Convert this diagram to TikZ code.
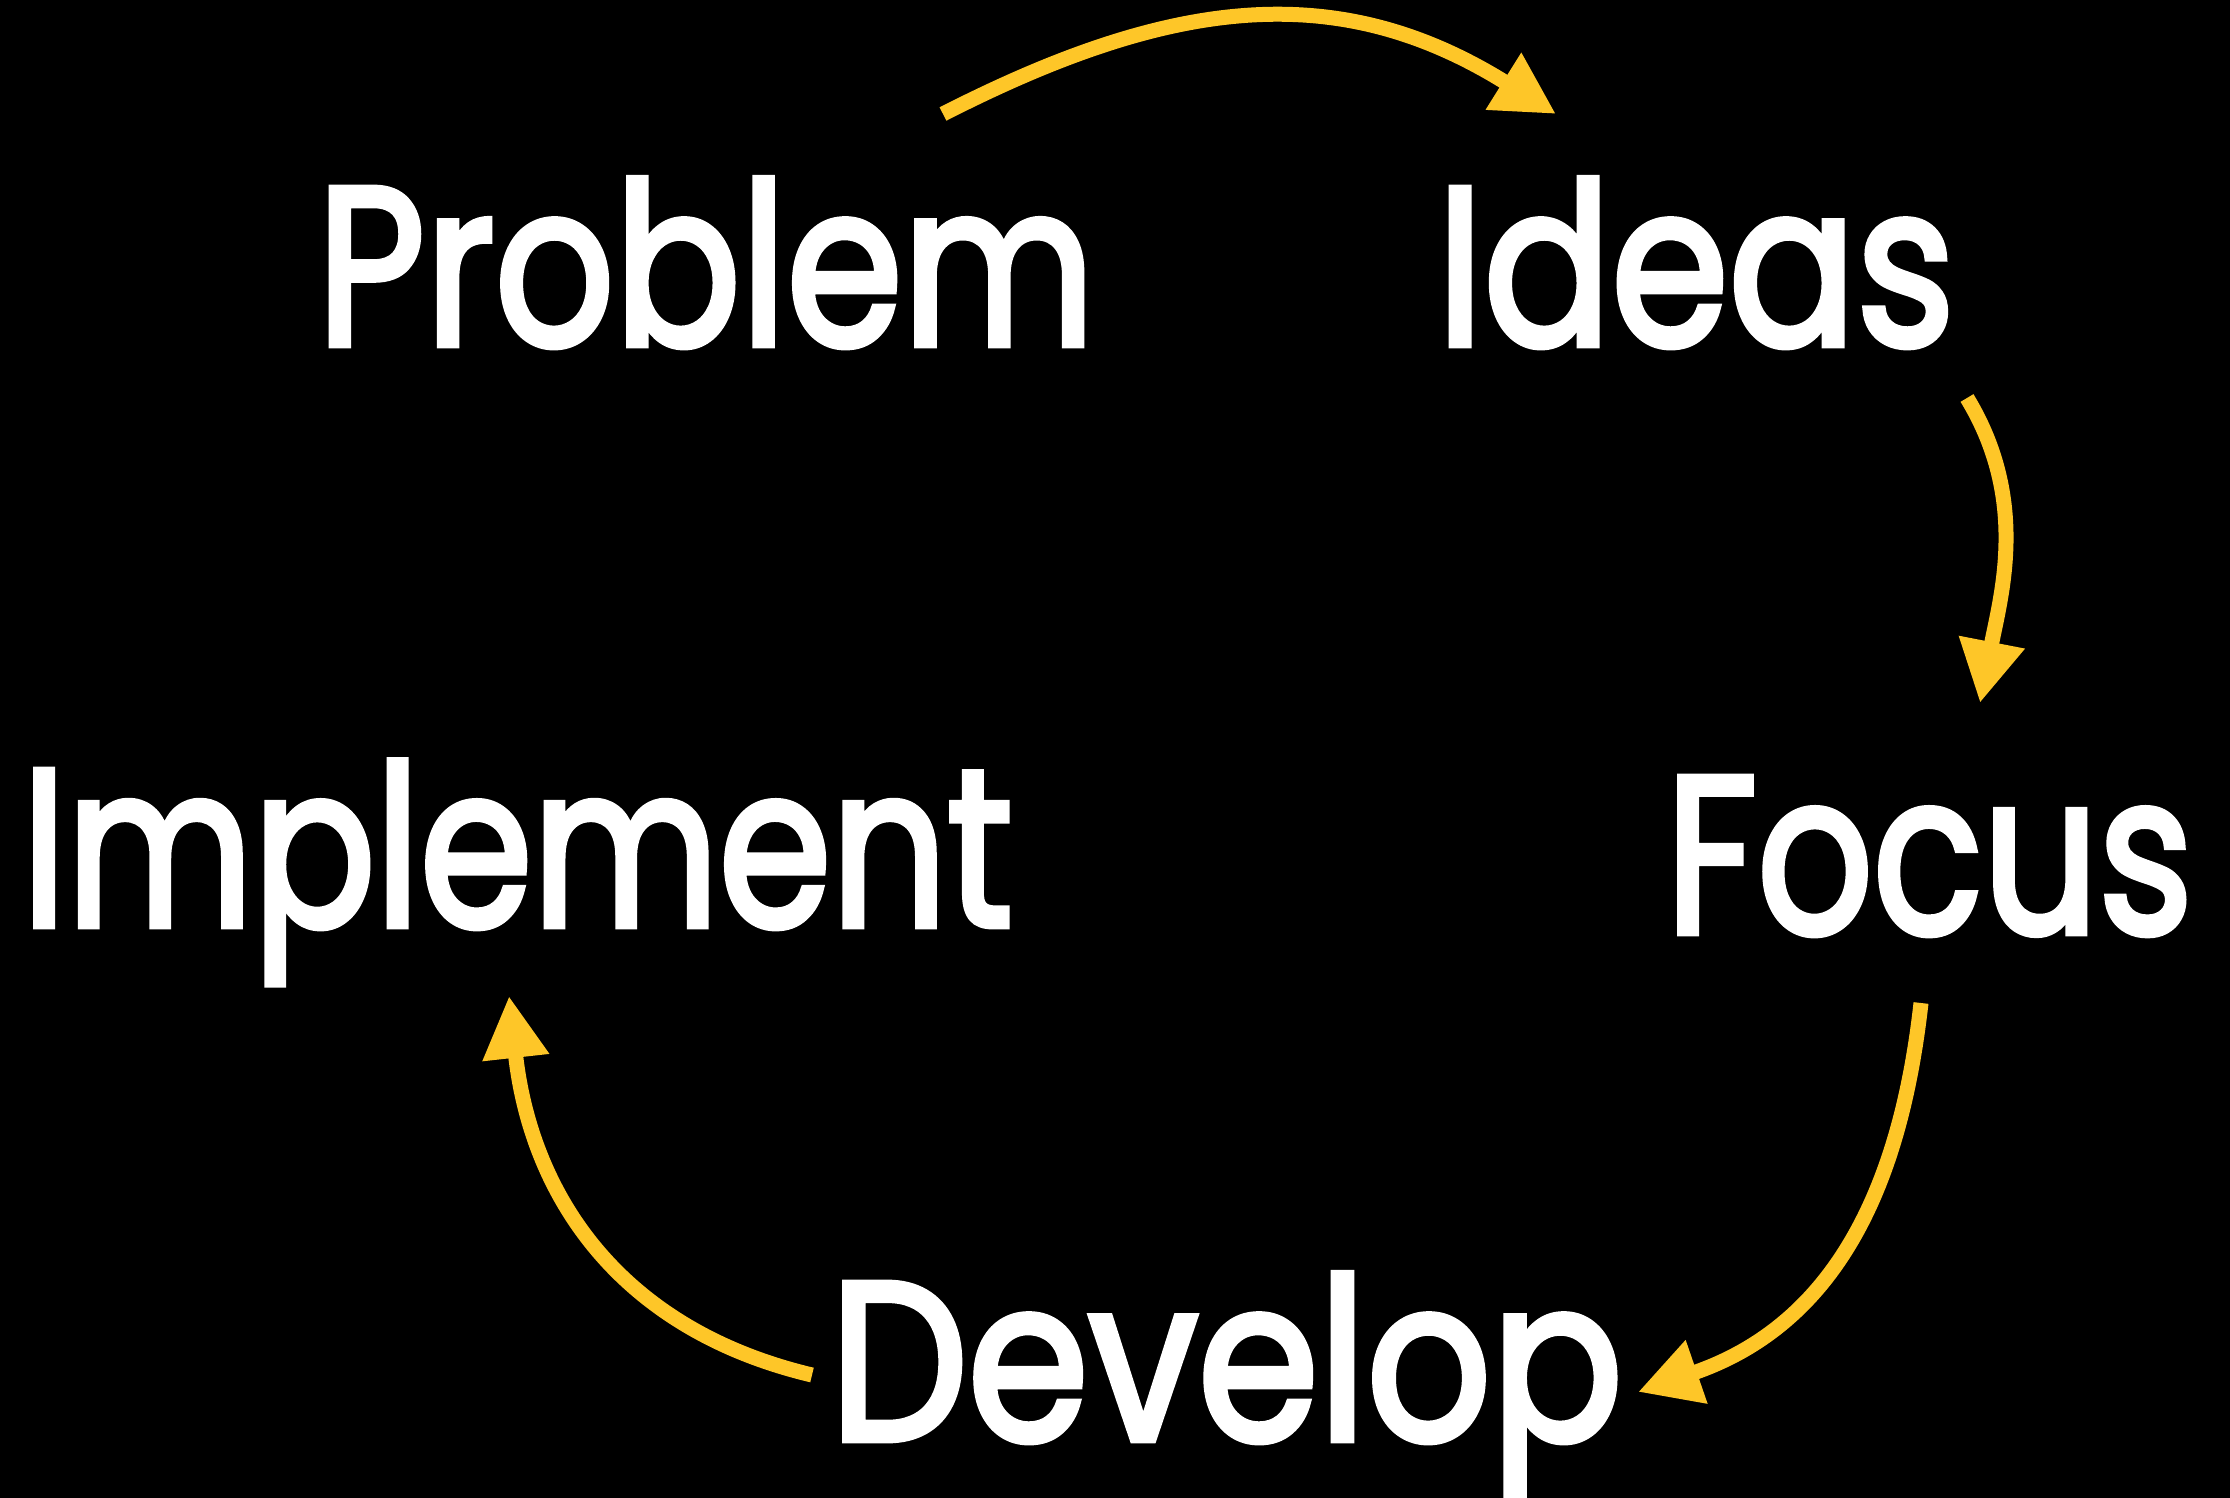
\documentclass[tikz,border=0pt]{standalone}
\usepackage{fontspec}
\usepackage{graphicx}
\usetikzlibrary{arrows.meta}
\newfontfamily\wordfont{Poppins}[FakeBold=3]
\definecolor{arrowyellow}{RGB}{254,198,40}
\newsavebox\fwbox
\newlength\fwcap
\newlength\fwwd
\newcommand\fitword[3]{%
  \begingroup
  \wordfont\fontsize{100pt}{100pt}\selectfont
  \sbox\fwbox{#1}%
  \settoheight\fwcap{H}%
  \setlength\fwwd{\wd\fwbox}%
  \pgfmathsetmacro\fwsx{#2/\the\fwwd}%
  \pgfmathsetmacro\fwsy{#3/\the\fwcap}%
  \scalebox{\fwsx}[\fwsy]{\usebox\fwbox}%
  \endgroup}
\tikzset{
  word/.style={anchor=base west, inner sep=0pt, outer sep=0pt, text=white},
  cyclearrow/.style={draw=arrowyellow, line width=15pt, line cap=butt,
    -{Triangle[length=62pt,width=63pt]}}
}
\begin{document}
\begin{tikzpicture}[x=1pt,y=-1pt]
  \fill[black] (0,0) rectangle (2230,1498);
  \useasboundingbox (0,0) rectangle (2230,1498);
  \clip (0,0) rectangle (2230,1498);
  % words
  \node[word] (problem)   at (317,345)  {\fitword{Problem}{778}{157}};
  \node[word] (ideas)     at (1437,345) {\fitword{Ideas}{518}{157}};
  \node[word] (implement) at (22,926)   {\fitword{Implement}{991}{156}};
  \node[word] (focus)     at (1666,933) {\fitword{Focus}{527}{156}};
  \node[word] (develop)   at (830,1440) {\fitword{Develop}{793}{157}};
  % arrow end points
  \coordinate (a1s) at (943,114);
  \coordinate (a1e) at (1556,114);
  \coordinate (a2s) at (1967,398);
  \coordinate (a2e) at (1980,703);
  \coordinate (a3s) at (1921,1003);
  \coordinate (a3e) at (1638,1392);
  \coordinate (a4s) at (812,1375);
  \coordinate (a4e) at (509,996);
  % arrows
  \draw[cyclearrow] (a1s) .. controls (1172,-3) and (1338,-22) .. (a1e);
  \draw[cyclearrow] (a2s) .. controls (2029,500) and (2001,595) .. (a2e);
  \draw[cyclearrow] (a3s) .. controls (1899,1201) and (1827,1327) .. (a3e);
  \draw[cyclearrow] (a4s) .. controls (618,1329) and (531,1194) .. (a4e);
\end{tikzpicture}
\end{document}
